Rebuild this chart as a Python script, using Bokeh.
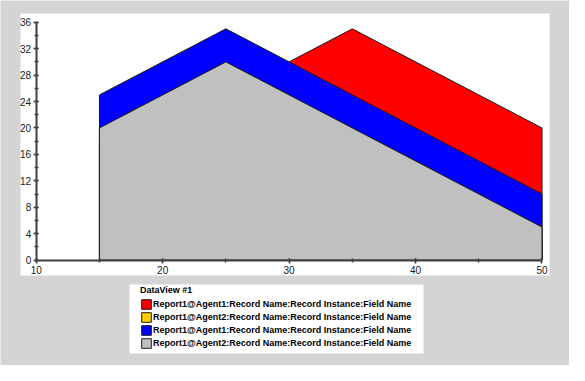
from bokeh.plotting import figure
from bokeh.models import Range1d, SingleIntervalTicker, Legend, LegendItem, BoxAnnotation
from bokeh.embed import file_html
from bokeh.resources import INLINE

# ---- data ----
series_names = [
    "Report1@Agent1:Record Name:Record Instance:Field Name",
    "Report1@Agent2:Record Name:Record Instance:Field Name",
    "Report1@Agent1:Record Name:Record Instance:Field Name",
    "Report1@Agent2:Record Name:Record Instance:Field Name",
]
series_colors = ["#ff0000", "#ffcc00", "#0000ff", "#c0c0c0"]

red_x = [25, 35, 50]
red_y = [25, 35, 20]
yellow_x = [15, 25, 50]
yellow_y = [18, 28, 3]
blue_x = [15, 25, 50]
blue_y = [25, 35, 10]
gray_x = [15, 25, 50]
gray_y = [20, 30, 5]

legend_title = "DataView #1"

FONT = "Liberation Sans"
W, H = 569, 365

p = figure(width=W, height=H, output_backend="svg", toolbar_location=None,
           x_range=Range1d(7.177, 52.175), y_range=Range1d(-15.95, 39.29),
           min_border=0, min_border_left=0, min_border_right=0,
           min_border_top=0, min_border_bottom=0)
p.border_fill_color = "#d4d4d4"
p.background_fill_color = "#d4d4d4"
p.outline_line_color = None
p.xgrid.visible = False
p.ygrid.visible = False

# white chart panel and legend panel (layout boxes, canvas pixels)
panel = BoxAnnotation(left=20, right=549, top=13, bottom=275,
                      left_units="canvas", right_units="canvas",
                      top_units="canvas", bottom_units="canvas",
                      fill_color="white", fill_alpha=1.0, line_color=None, level="underlay")
p.add_layout(panel)
lbox = BoxAnnotation(left=129, right=423, top=284, bottom=353,
                     left_units="canvas", right_units="canvas",
                     top_units="canvas", bottom_units="canvas",
                     fill_color="white", fill_alpha=1.0, line_color=None, level="underlay")
p.add_layout(lbox)

for ax, loc, bounds, interval in ((p.xaxis[0], 0, (10, 50), 10), (p.yaxis[0], 10, (0, 36), 4)):
    ax.fixed_location = loc
    ax.bounds = bounds
    ax.ticker = SingleIntervalTicker(interval=interval, num_minor_ticks=2)
    ax.axis_line_color = "#404040"
    ax.axis_line_width = 2
    ax.major_tick_line_color = "#404040"
    ax.minor_tick_line_color = "#404040"
    ax.major_tick_line_width = 1.5
    ax.minor_tick_line_width = 1.5
    ax.major_tick_in = 2
    ax.major_tick_out = 3
    ax.minor_tick_in = 2
    ax.minor_tick_out = 2
    ax.major_label_text_font = FONT
    ax.major_label_text_font_size = "10px"
    ax.major_label_text_color = "#202020"
p.xaxis[0].major_label_standoff = 3
p.yaxis[0].major_label_standoff = 2

renderers = []
for xs, ys, c in ((red_x, red_y, series_colors[0]), (yellow_x, yellow_y, series_colors[1]),
                  (blue_x, blue_y, series_colors[2]), (gray_x, gray_y, series_colors[3])):
    r = p.patch(x=[xs[0]] + xs + [xs[-1]], y=[0] + ys + [0], fill_color=c,
                line_color="#1a1a1a", line_width=1)
    renderers.append(r)

items = [LegendItem(label=n, renderers=[r]) for n, r in zip(series_names, renderers)]
legend = Legend(items=items, location=(140, 16), title=legend_title,
                title_text_font=FONT, title_text_font_size="9px", title_text_font_style="bold",
                title_text_color="#000000", title_standoff=3,
                label_text_font=FONT, label_text_font_size="9px", label_text_font_style="bold",
                label_text_color="#000000",
                glyph_width=12, glyph_height=12, label_height=12, spacing=1,
                padding=0, margin=0, label_standoff=1,
                background_fill_alpha=0, border_line_color=None)
p.add_layout(legend)

open("out.html", "w").write(file_html(p, INLINE))
